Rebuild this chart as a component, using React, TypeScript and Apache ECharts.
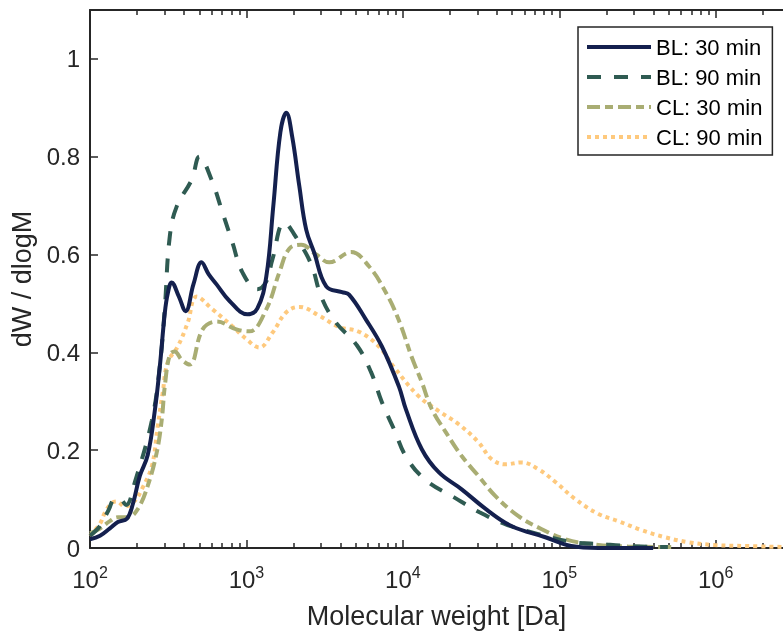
import React, { useEffect, useRef } from "react";
import * as echarts from "echarts";

// x values are log10(Molecular weight [Da])
const bl30X = [2.0, 2.064, 2.127, 2.178, 2.236, 2.274, 2.318, 2.369, 2.414, 2.446, 2.478, 2.497, 2.522, 2.567, 2.611, 2.662, 2.713, 2.758, 2.809, 2.892, 3.006, 3.07, 3.127, 3.172, 3.217, 3.255, 3.293, 3.338, 3.382, 3.433, 3.51, 3.611, 3.656, 3.764, 3.866, 3.975, 4.019, 4.121, 4.229, 4.376, 4.529, 4.694, 4.911, 5.076, 5.25, 5.6];
const bl30Y = [0.018, 0.025, 0.04, 0.053, 0.06, 0.09, 0.147, 0.19, 0.28, 0.37, 0.48, 0.52, 0.543, 0.515, 0.484, 0.54, 0.584, 0.56, 0.539, 0.505, 0.478, 0.49, 0.555, 0.7, 0.85, 0.89, 0.84, 0.74, 0.651, 0.604, 0.535, 0.523, 0.518, 0.467, 0.412, 0.33, 0.284, 0.202, 0.155, 0.12, 0.08, 0.045, 0.022, 0.004, 0, 0];

const bl90X = [2.0, 2.064, 2.115, 2.16, 2.19, 2.23, 2.287, 2.395, 2.446, 2.478, 2.51, 2.554, 2.65, 2.7, 2.777, 2.847, 2.911, 2.975, 3.07, 3.127, 3.166, 3.242, 3.318, 3.414, 3.478, 3.567, 3.707, 3.796, 3.866, 3.943, 4.025, 4.146, 4.325, 4.49, 4.669, 4.86, 5.089, 5.261, 5.44, 5.694];
const bl90Y = [0.025, 0.045, 0.075, 0.1, 0.1, 0.088, 0.135, 0.26, 0.371, 0.49, 0.637, 0.698, 0.753, 0.8, 0.753, 0.686, 0.624, 0.563, 0.529, 0.545, 0.59, 0.665, 0.635, 0.58, 0.514, 0.463, 0.414, 0.36, 0.298, 0.243, 0.184, 0.139, 0.104, 0.073, 0.047, 0.029, 0.012, 0.008, 0.004, 0.002];

const cl30X = [2.0, 2.064, 2.127, 2.178, 2.242, 2.306, 2.369, 2.427, 2.459, 2.478, 2.51, 2.541, 2.586, 2.637, 2.72, 2.809, 2.936, 3.019, 3.127, 3.21, 3.274, 3.35, 3.446, 3.529, 3.669, 3.783, 3.892, 3.975, 4.057, 4.121, 4.185, 4.274, 4.376, 4.484, 4.592, 4.739, 4.885, 5.038, 5.204, 5.44, 5.726];
const cl30Y = [0.03, 0.04, 0.055, 0.063, 0.063, 0.08, 0.127, 0.196, 0.263, 0.33, 0.395, 0.402, 0.385, 0.375, 0.447, 0.463, 0.447, 0.443, 0.488, 0.563, 0.612, 0.62, 0.6, 0.584, 0.605, 0.576, 0.522, 0.465, 0.39, 0.339, 0.284, 0.237, 0.188, 0.147, 0.106, 0.065, 0.039, 0.018, 0.008, 0.003, 0.002];

const cl90X = [2.0, 2.064, 2.096, 2.14, 2.172, 2.223, 2.287, 2.331, 2.395, 2.433, 2.465, 2.497, 2.561, 2.624, 2.682, 2.783, 2.911, 3.0, 3.083, 3.166, 3.255, 3.338, 3.465, 3.592, 3.72, 3.847, 3.943, 4.102, 4.229, 4.357, 4.484, 4.567, 4.656, 4.758, 4.866, 4.975, 5.102, 5.248, 5.376, 5.522, 5.675, 5.822, 5.994, 6.204, 6.43];
const cl90Y = [0.025, 0.05, 0.073, 0.092, 0.095, 0.085, 0.097, 0.12, 0.167, 0.249, 0.318, 0.38, 0.412, 0.46, 0.514, 0.488, 0.453, 0.427, 0.41, 0.44, 0.482, 0.493, 0.475, 0.452, 0.442, 0.412, 0.37, 0.31, 0.28, 0.253, 0.216, 0.182, 0.171, 0.175, 0.161, 0.135, 0.1, 0.07, 0.055, 0.037, 0.022, 0.012, 0.006, 0.004, 0.002];

const seriesNames = ["BL: 30 min", "BL: 90 min", "CL: 30 min", "CL: 90 min"];
const majorDecades = [2, 3, 4, 5, 6];
const minorMultipliers = [2, 3, 4, 5, 6, 7, 8, 9];
const yTicks = [0, 0.2, 0.4, 0.6, 0.8, 1];
const X_MIN = 2;
const X_MAX = 6.43;
const Y_MAX = 1.1;

const FONT = "'Liberation Sans', Arial, sans-serif";
const AX = "#262626";
const LW = 4;

const minorTicks: number[] = [];
majorDecades.forEach((d) => {
  minorMultipliers.forEach((m) => {
    const v = d + Math.log10(m);
    if (v < X_MAX) minorTicks.push(v);
  });
});

const pairs = (xs: number[], ys: number[]) => xs.map((x, i) => [x, ys[i]]);

export default function App() {
  const ref = useRef<HTMLDivElement>(null);
  useEffect(() => {
    if (!ref.current) return;
    const chart = echarts.init(ref.current, null, { renderer: "svg" });
    const baseX = { type: "value", min: X_MIN, max: X_MAX, splitLine: { show: false } };
    const lineBase = { type: "line", showSymbol: false, symbol: "none", smooth: 0.4, xAxisIndex: 0, yAxisIndex: 0 };
    chart.setOption({
      animation: false,
      textStyle: { fontFamily: FONT },
      grid: { left: 90, right: 0, top: 10, bottom: 85, containLabel: false },
      legend: {
        data: seriesNames,
        orient: "vertical",
        left: 578,
        top: 27,
        padding: [9, 10, 7, 7],
        itemWidth: 64,
        itemHeight: 22,
        itemGap: 8,
        borderColor: AX,
        borderWidth: 1.5,
        backgroundColor: "#fff",
        itemStyle: { opacity: 0 },
        lineStyle: { width: LW },
        textStyle: { fontSize: 22, color: "#000", fontFamily: FONT },
      },
      xAxis: [
        {
          ...baseX,
          position: "bottom",
          interval: 1,
          axisLine: { show: true, onZero: false, lineStyle: { color: AX, width: 2 } },
          axisTick: { show: true, inside: true, length: 8, customValues: majorDecades, lineStyle: { color: AX, width: 1.5 } },
          axisLabel: {
            customValues: majorDecades,
            margin: 16,
            formatter: (v: number) => `{b|10}{s|${Math.round(v)}}`,
            rich: {
              b: { fontSize: 24, lineHeight: 30, color: AX, fontFamily: FONT },
              s: { fontSize: 16, lineHeight: 16, verticalAlign: "top", color: AX, fontFamily: FONT },
            },
          },
          name: "Molecular weight [Da]",
          nameLocation: "middle",
          nameGap: 54,
          nameTextStyle: { fontSize: 27, color: AX, fontFamily: FONT },
        },
        {
          ...baseX,
          position: "bottom",
          axisLine: { show: false },
          axisTick: { show: true, inside: true, length: 5, customValues: minorTicks, lineStyle: { color: AX, width: 1.5 } },
          axisLabel: { show: false },
        },
        {
          ...baseX,
          position: "top",
          axisLine: { show: true, onZero: false, lineStyle: { color: AX, width: 2 } },
          axisTick: { show: true, inside: true, length: 8, customValues: majorDecades, lineStyle: { color: AX, width: 1.5 } },
          axisLabel: { show: false },
        },
        {
          ...baseX,
          position: "top",
          axisLine: { show: false },
          axisTick: { show: true, inside: true, length: 5, customValues: minorTicks, lineStyle: { color: AX, width: 1.5 } },
          axisLabel: { show: false },
        },
      ],
      yAxis: {
        type: "value",
        min: 0,
        max: Y_MAX,
        interval: 0.2,
        splitLine: { show: false },
        axisLine: { show: true, onZero: false, lineStyle: { color: AX, width: 2 } },
        axisTick: { show: true, inside: true, length: 8, customValues: yTicks, lineStyle: { color: AX, width: 1.5 } },
        axisLabel: { customValues: yTicks, fontSize: 24, color: AX, margin: 10, fontFamily: FONT },
        name: "dW / dlogM",
        nameLocation: "middle",
        nameGap: 50,
        nameTextStyle: { fontSize: 27, color: AX, fontFamily: FONT },
      },
      series: [
        { ...lineBase, name: seriesNames[0], data: pairs(bl30X, bl30Y), z: 5, lineStyle: { color: "#14204e", width: LW, type: "solid" }, itemStyle: { color: "#14204e" } },
        { ...lineBase, name: seriesNames[1], data: pairs(bl90X, bl90Y), z: 4, lineStyle: { color: "#2f5b52", width: LW, type: [14, 13], cap: "butt" }, itemStyle: { color: "#2f5b52" } },
        { ...lineBase, name: seriesNames[2], data: pairs(cl30X, cl30Y), z: 3, lineStyle: { color: "#a9ad73", width: LW, type: [13, 5, 8, 5], cap: "butt" }, itemStyle: { color: "#a9ad73" } },
        { ...lineBase, name: seriesNames[3], data: pairs(cl90X, cl90Y), z: 2, lineStyle: { color: "#fec97d", width: LW, type: [4, 4], cap: "butt" }, itemStyle: { color: "#fec97d" } },
      ],
    });
    return () => chart.dispose();
  }, []);
  return <div ref={ref} style={{ position: "fixed", left: 0, top: 0, width: 783, height: 634 }} />;
}
